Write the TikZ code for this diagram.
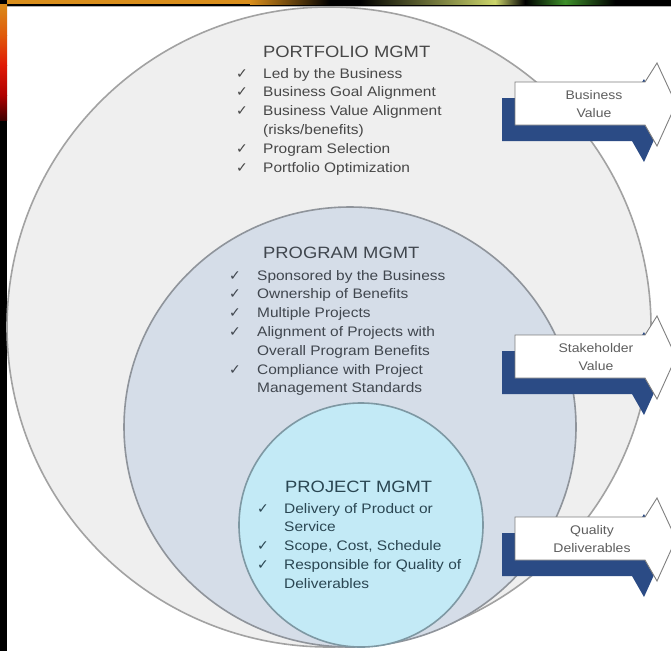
\documentclass[tikz,border=0pt]{standalone}
\usepackage{fontspec}
\setmainfont{Liberation Sans}[FakeStretch=1.12]
\newfontfamily\chkfont{DejaVu Sans}
\usetikzlibrary{calc}
\definecolor{bandorange}{HTML}{D98E1C}
\definecolor{bandyellow}{HTML}{CBD46A}
\definecolor{bandgreen}{HTML}{3D8F2A}
\definecolor{stripA}{HTML}{D98A1A}
\definecolor{stripB}{HTML}{E05A0A}
\definecolor{stripC}{HTML}{E01A05}
\definecolor{stripD}{HTML}{B00000}
\definecolor{stripE}{HTML}{400000}
\definecolor{outerfill}{HTML}{EFEFEF}
\definecolor{outeredge}{HTML}{A2A2A2}
\definecolor{progfill}{HTML}{D5DDE8}
\definecolor{progedge}{HTML}{8F949B}
\definecolor{projfill}{HTML}{C3EAF6}
\definecolor{projedge}{HTML}{7E98A3}
\definecolor{arrowblue}{HTML}{2B4B85}
\definecolor{arrowedge}{HTML}{7F7F7F}
\definecolor{arrowgray}{HTML}{5E5E5E}
\definecolor{pftext}{HTML}{474747}
\definecolor{pgtext}{HTML}{40464E}
\definecolor{pjtext}{HTML}{2A4652}
\newcommand{\chk}{{\chkfont\fontsize{14}{10}\selectfont ✓}}
\newcommand{\valarrow}[4]{%
  \begin{scope}[shift={(0,#1)}]
    \fill[bluearrow, shift={(-13,16)}] (515,82) -- (645,82) -- (657,63) -- (676,104) -- (657,146) -- (645,125) -- (515,125) -- cycle;
    \draw[whitearrow] (515,82) -- (645,82) -- (657,63) -- (676,104) -- (657,146) -- (645,125) -- (515,125) -- cycle;
    \node[arrowtxt] (#2) at (#4,104) {#3};
  \end{scope}}
\tikzset{
  circ/.style={line width=1.6pt},
  headtxt/.style={anchor=base west, inner sep=0pt, font=\fontsize{16.4}{19}\selectfont},
  listtxt/.style={anchor=base west, inner sep=0pt, font=\fontsize{13.8}{18.8}\selectfont},
  arrowtxt/.style={align=center, inner sep=0pt, text=arrowgray, font=\fontsize{12.5}{18}\selectfont},
  whitearrow/.style={fill=white, draw=arrowedge, line width=0.9pt, line join=miter},
  bluearrow/.style={fill=arrowblue},
}
\begin{document}
\begin{tikzpicture}[x=1pt,y=-1pt]
\useasboundingbox (0,0) rectangle (671,651);
\clip (0,0) rectangle (671,651);
\fill[white] (0,0) rectangle (671,651);

% frame: top band
\fill[black] (0,0) rectangle (671,5.5);
\fill[bandorange] (0,0) rectangle (250,4);
\shade[left color=bandorange, right color=black] (250,0) rectangle (330,4);
\shade[left color=black, right color=bandyellow] (360,0) rectangle (495,4);
\shade[left color=bandyellow, right color=black] (495,0) rectangle (525,4);
\shade[left color=black, right color=bandgreen] (525,0) rectangle (565,4);
\shade[left color=bandgreen, right color=black] (565,0) rectangle (615,4);
\draw[gray!60, line width=0.8pt] (7,6) -- (671,6);

% frame: left strip
\fill[black] (0,0) rectangle (7,651);
\shade[top color=stripA, bottom color=stripB] (0,4) rectangle (7,35);
\shade[top color=stripB, bottom color=stripC] (0,35) rectangle (7,65);
\shade[top color=stripC, bottom color=stripD] (0,65) rectangle (7,95);
\shade[top color=stripD, bottom color=stripE] (0,95) rectangle (7,120);

% circles
\draw[circ, fill=outerfill, draw=outeredge] (329,327) ellipse [x radius=322pt, y radius=320pt];
\draw[circ, fill=progfill, draw=progedge] (350,427) ellipse [x radius=226pt, y radius=220pt];
\draw[circ, fill=projfill, draw=projedge] (361,525) circle [radius=122pt];

% arrows
\valarrow{0}{bv}{Business\\Value}{594}
\valarrow{253}{sv}{Stakeholder\\Value}{596}
\valarrow{435}{qd}{Quality\\Deliverables}{592}

% portfolio text
\node[headtxt, text=pftext] (pfhead) at (263,57) {PORTFOLIO MGMT};
\node[listtxt, text=pftext] (pflist) at (236,78) {\begin{tabular}[t]{@{}p{27pt}@{}l@{}}
\chk & Led by the Business\\
\chk & Business Goal Alignment\\
\chk & Business Value Alignment\\
 & (risks/benefits)\\
\chk & Program Selection\\
\chk & Portfolio Optimization
\end{tabular}};

% program text
\node[headtxt, text=pgtext] (pghead) at (263,258) {PROGRAM MGMT};
\node[listtxt, text=pgtext] (pglist) at (229,280) {\begin{tabular}[t]{@{}p{28pt}@{}l@{}}
\chk & Sponsored by the Business\\
\chk & Ownership of Benefits\\
\chk & Multiple Projects\\
\chk & Alignment of Projects with\\
 & Overall Program Benefits\\
\chk & Compliance with Project\\
 & Management Standards
\end{tabular}};

% project text
\node[headtxt, text=pjtext] (pjhead) at (285,492) {PROJECT MGMT};
\node[listtxt, text=pjtext] (pjlist) at (257,513) {\begin{tabular}[t]{@{}p{27pt}@{}l@{}}
\chk & Delivery of Product or\\
 & Service\\
\chk & Scope, Cost, Schedule\\
\chk & Responsible for Quality of\\
 & Deliverables
\end{tabular}};
\end{tikzpicture}
\end{document}
